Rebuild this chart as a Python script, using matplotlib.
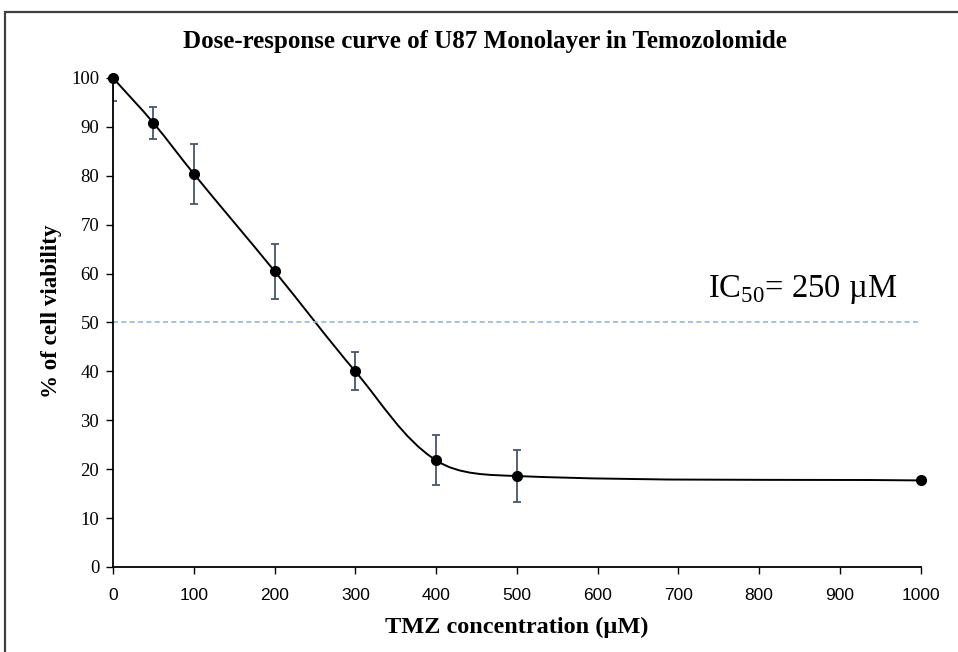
import numpy as np
import matplotlib
matplotlib.use("Agg")
import matplotlib.pyplot as plt
from matplotlib.path import Path
from matplotlib.patches import PathPatch, Rectangle

# data
dose = [0, 50, 100, 200, 300, 400, 500, 1000]
viability = [100, 90.8, 80.4, 60.5, 40.0, 21.8, 18.6, 17.7]
err = [4.8, 3.3, 6.1, 5.6, 3.9, 5.1, 5.3, 0]
x_ticks = [0, 100, 200, 300, 400, 500, 600, 700, 800, 900, 1000]
y_ticks = [0, 10, 20, 30, 40, 50, 60, 70, 80, 90, 100]
ic50_level = 50

plt.rcParams['font.family'] = ['Liberation Serif', 'DejaVu Serif']
plt.rcParams['mathtext.fontset'] = 'custom'
plt.rcParams['mathtext.rm'] = 'Liberation Serif'

fig = plt.figure(figsize=(9.58, 6.52), dpi=100)
ax = fig.add_axes([0.118, 0.1304, 0.843, 0.7500])
ax.set_xlim(0, 1000)
ax.set_ylim(0, 100)

# outer frame (only top and left edges visible in the original)
fig.patches.append(Rectangle((5 / 958, -0.1), 1.2, 0.1 + (652 - 12) / 652,
                             transform=fig.transFigure, fill=False,
                             edgecolor='#404040', lw=1.6))

# smoothed line (bezier through the points, worked out in pixel space)
pts = ax.transData.transform(np.column_stack([dose, viability]))
n = len(pts)

def unit(v):
    return v / np.hypot(*v)

tang = []
for i in range(n):
    a = pts[max(i - 1, 0)]
    b = pts[min(i + 1, n - 1)]
    tang.append(unit(b - a))

verts = [pts[0]]
codes = [Path.MOVETO]
for i in range(n - 1):
    d = np.hypot(*(pts[i + 1] - pts[i])) / 3
    verts += [pts[i] + tang[i] * d, pts[i + 1] - tang[i + 1] * d, pts[i + 1]]
    codes += [Path.CURVE4] * 3
verts = ax.transData.inverted().transform(np.array(verts))
ax.add_patch(PathPatch(Path(verts, codes), fill=False, edgecolor='black', lw=1.4))

ax.errorbar(dose, viability, yerr=err, fmt='none', ecolor='#4a5568',
            elinewidth=1.3, capsize=3, capthick=1.3)
ax.plot(dose, viability, 'o', color='black', ms=7, clip_on=False, zorder=5)

ax.axhline(ic50_level, color='#9db3d6', lw=1.2, ls=(0, (3, 2)))
ax.text(971, 55.2, 'IC$_{50}$= 250 µM', ha='right', va='baseline', fontsize=23.5)

ax.set_xticks(x_ticks)
ax.set_yticks(y_ticks)
ax.spines['top'].set_visible(False)
ax.spines['right'].set_visible(False)
for s in ['left', 'bottom']:
    ax.spines[s].set_linewidth(1.3)
ax.tick_params(direction='out', length=5, width=1)
ax.tick_params(axis='y', labelsize=13.5, pad=5)
ax.tick_params(axis='x', labelsize=12.5, pad=10)
for lab in ax.get_xticklabels():
    lab.set_fontfamily(['Liberation Sans', 'DejaVu Sans'])

ax.set_xlabel('TMZ concentration (µM)', fontsize=17.5, fontweight='bold')
ax.xaxis.set_label_coords(0.5, -0.101)
ax.set_ylabel('% of cell viability', fontsize=16.6, fontweight='bold')
ax.yaxis.set_label_coords(-0.063, 0.523)
fig.text(0.5065, 0.936, 'Dose-response curve of U87 Monolayer in Temozolomide',
         ha='center', va='center', fontsize=18, fontweight='bold')

fig.savefig('out.png', dpi=100)
